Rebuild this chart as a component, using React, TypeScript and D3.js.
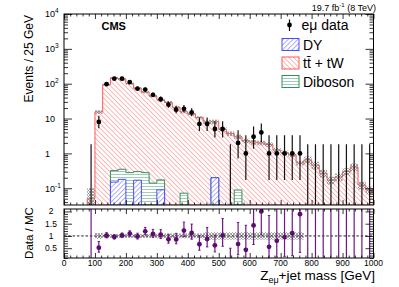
import React from "react";
import * as d3 from "d3";

// 25 GeV bins, lower edges from 75 to 975 GeV
const binLow = d3.range(75, 1000, 25);
const binWidth = 25;

// e-mu data counts per bin
const dataCounts = [0, 8, 97, 139, 139, 111, 72, 68, 48, 36, 25, 18, 19, 15, 7, 7, 5, 5, 0, 2, 1, 3, 4, 1, 1, 1, 1, 1, 0, 0, 0, 0, 0, 0, 0, 0, 0];

// simulation, events / 25 GeV
const ttbarValues = [0.05, 15.4, 95, 145, 135, 101, 73, 57, 44, 34, 29, 21, 15.5, 13.4, 10.6, 8, 7.9, 4.9, 3.7, 2.9, 2.3, 2.1, 2.0, 1.8, 1.25, 1.05, 0.9, 0.53, 0.65, 0.46, 0.27, 0.17, 0.21, 0.3, 0.41, 0.124, 0.089];
const dyValues = [0, 0, 0, 0.15, 0.18, 0, 0.17, 0, 0, 0.09, 0, 0, 0, 0, 0, 0, 0.2, 0, 0, 0, 0, 0, 0, 0, 0, 0, 0, 0, 0, 0, 0, 0, 0, 0, 0, 0, 0];
const dibosonValues = [0, 0, 0, 0.17, 0.17, 0.28, 0.13, 0.28, 0.14, 0.083, 0, 0, 0.072, 0, 0, 0, 0, 0, 0, 0.089, 0, 0, 0, 0, 0, 0, 0, 0, 0, 0, 0, 0, 0, 0, 0, 0, 0];
// relative MC uncertainty (gray band)
const mcRelUnc = [1.0, 0.12, 0.08, 0.08, 0.08, 0.08, 0.08, 0.08, 0.08, 0.1, 0.1, 0.1, 0.1, 0.1, 0.1, 0.15, 0.15, 0.15, 0.15, 0.15, 0.15, 0.15, 0.15, 0.15, 0.15, 0.15, 0.15, 0.15, 0.25, 0.25, 0.25, 0.25, 0.25, 0.25, 0.25, 0.25, 0.25];

// 68% Poisson intervals (lower / upper bound) for small counts
const poissonLow = [0, 0.173, 0.708, 1.367, 2.086, 2.84, 3.62, 4.419, 5.232, 6.057, 6.891];
const poissonHigh = [1.841, 3.3, 4.638, 5.918, 7.163, 8.382, 9.584, 10.77, 11.95, 13.11, 14.27];

const yLabelsTop = [
  { v: 1e4, base: "10", sup: "4" },
  { v: 1e3, base: "10", sup: "3" },
  { v: 1e2, base: "10", sup: "2" },
  { v: 10, base: "10", sup: "" },
  { v: 1, base: "1", sup: "" },
  { v: 0.1, base: "10", sup: "-1" },
];
const ratioLabels = [0.5, 1, 1.5, 2];

const W = 399;
const H = 287;
const left = 64;
const right = 373.5;
const top1 = 14;
const bottom1 = 205;
const top2 = 209;
const bottom2 = 258;
const FONT = "Liberation Sans, Arial, Helvetica, sans-serif";

// returns [lower bound, upper bound]
function interval(n) {
  if (n <= 10) return [poissonLow[n], poissonHigh[n]];
  const s = Math.sqrt(n);
  return [n - s + 0.5, n + s + 1];
}

function stepPath(vals, x, y, base) {
  let p = "";
  let open = false;
  vals.forEach((v, i) => {
    const x0 = x(binLow[i]);
    const x1 = x(binLow[i] + binWidth);
    if (v > 0) {
      const yy = y(v);
      if (!open) {
        p += `M${x0},${base}V${yy}`;
        open = true;
      } else p += `V${yy}`;
      p += `H${x1}`;
      if (i === vals.length - 1 || !(vals[i + 1] > 0)) {
        p += `V${base}Z`;
        open = false;
      }
    }
  });
  return p;
}

function hatch(defs, id, angle, color, size, width) {
  const p = defs
    .append("pattern")
    .attr("id", id)
    .attr("patternUnits", "userSpaceOnUse")
    .attr("width", size)
    .attr("height", size)
    .attr("patternTransform", `rotate(${angle})`);
  p.append("rect").attr("width", size).attr("height", size).attr("fill", "white");
  p.append("line")
    .attr("x1", 0)
    .attr("y1", 0)
    .attr("x2", 0)
    .attr("y2", size)
    .attr("stroke", color)
    .attr("stroke-width", width);
}

function drawChart(svgEl) {
  const svg = d3.select(svgEl);
  svg.selectAll("*").remove();

  const x = d3.scaleLinear().domain([0, 1000]).range([left, right]);
  const y = d3.scaleLog().domain([0.033, 1e4]).range([bottom1, top1]);
  const yr = d3.scaleLinear().domain([0.1, 2.1]).range([bottom2, top2]);

  const defs = svg.append("defs");
  hatch(defs, "hRed", -45, "#ff6f6f", 3.4, 1);
  hatch(defs, "hBlue", 45, "#5f5fff", 3.4, 1);
  hatch(defs, "hGreen", 90, "#2f8f5f", 3, 0.9);
  const cross = defs
    .append("pattern")
    .attr("id", "hGray")
    .attr("patternUnits", "userSpaceOnUse")
    .attr("width", 3)
    .attr("height", 3);
  cross.append("path").attr("d", "M0,0L3,3M3,0L0,3").attr("stroke", "#8a8a8a").attr("stroke-width", 0.8);
  defs.append("clipPath").attr("id", "clipTop").append("rect")
    .attr("x", left).attr("y", top1).attr("width", right - left).attr("height", bottom1 - top1);
  defs.append("clipPath").attr("id", "clipRatio").append("rect")
    .attr("x", left).attr("y", top2).attr("width", right - left).attr("height", bottom2 - top2);

  const total = ttbarValues.map((t, i) => t + dyValues[i] + dibosonValues[i]);
  const dyVv = dyValues.map((d, i) => d + dibosonValues[i]);

  // ---- upper panel
  const up = svg.append("g").attr("clip-path", "url(#clipTop)");
  up.append("path")
    .attr("d", stepPath(total, x, y, bottom1))
    .attr("fill", "url(#hRed)")
    .attr("stroke", "#ff5555")
    .attr("stroke-width", 1);
  up.append("path")
    .attr("d", stepPath(dyVv, x, y, bottom1))
    .attr("fill", "url(#hGreen)")
    .attr("stroke", "#2f8f5f")
    .attr("stroke-width", 1);
  up.append("path")
    .attr("d", stepPath(dyValues, x, y, bottom1))
    .attr("fill", "url(#hBlue)")
    .attr("stroke", "#4a4aff")
    .attr("stroke-width", 1);

  // mc uncertainty band
  up.selectAll("rect.band")
    .data(total)
    .enter()
    .append("rect")
    .attr("x", (d, i) => x(binLow[i]))
    .attr("width", x(binWidth) - x(0))
    .attr("y", (d, i) => y(d * (1 + mcRelUnc[i])))
    .attr("height", (d, i) => y(Math.max(d * (1 - mcRelUnc[i]), 0.033)) - y(d * (1 + mcRelUnc[i])))
    .attr("fill", "url(#hGray)");

  // data
  dataCounts.forEach((n, i) => {
    const cx = x(binLow[i] + binWidth / 2);
    const [lo, hi] = interval(n);
    up.append("line")
      .attr("x1", cx).attr("x2", cx)
      .attr("y1", y(Math.max(lo, 0.02)))
      .attr("y2", y(hi))
      .attr("stroke", "#111")
      .attr("stroke-width", 1.2);
    if (n > 0) up.append("circle").attr("cx", cx).attr("cy", y(n)).attr("r", 2.4).attr("fill", "black");
  });

  // ---- ratio panel
  const rp = svg.append("g").attr("clip-path", "url(#clipRatio)");
  total.forEach((m, i) => {
    if (binLow[i] < 100 || binLow[i] >= 775) return;
    rp.append("rect")
      .attr("x", x(binLow[i]))
      .attr("width", x(binWidth) - x(0))
      .attr("y", yr(1 + mcRelUnc[i]))
      .attr("height", yr(1 - mcRelUnc[i]) - yr(1 + mcRelUnc[i]))
      .attr("fill", "url(#hGray)");
  });
  rp.append("line")
    .attr("x1", left).attr("x2", right)
    .attr("y1", yr(1)).attr("y2", yr(1))
    .attr("stroke", "#222")
    .attr("stroke-dasharray", "2.5,1.8")
    .attr("stroke-width", 1);
  dataCounts.forEach((n, i) => {
    const m = total[i];
    const cx = x(binLow[i] + binWidth / 2);
    const [lo, hi] = interval(n);
    const y1 = yr(lo / m);
    const y2 = yr(hi / m);
    rp.append("line")
      .attr("x1", cx).attr("x2", cx)
      .attr("y1", y1).attr("y2", y2)
      .attr("stroke", "#6a1a80")
      .attr("stroke-width", 1.2);
    [y1, y2].forEach((yy) =>
      rp.append("line")
        .attr("x1", cx - 1.2).attr("x2", cx + 1.2)
        .attr("y1", yy).attr("y2", yy)
        .attr("stroke", "#6a1a80")
        .attr("stroke-width", 1)
    );
    if (n > 0) rp.append("circle").attr("cx", cx).attr("cy", yr(n / m)).attr("r", 2.4).attr("fill", "#5e0a72");
  });

  // ---- frames and ticks
  [
    [top1, bottom1],
    [top2, bottom2],
  ].forEach(([t, b]) => {
    svg.append("rect")
      .attr("x", left).attr("y", t)
      .attr("width", right - left).attr("height", b - t)
      .attr("fill", "none").attr("stroke", "black").attr("stroke-width", 1);
  });

  const xMajor = d3.range(0, 1001, 100);
  const xMinor = d3.range(0, 1001, 20).filter((v) => v % 100 !== 0);
  const tickAxis = (axis, tx, ty) =>
    svg.append("g")
      .attr("transform", `translate(${tx},${ty})`)
      .call(axis)
      .call((g) => g.select(".domain").remove())
      .call((g) => g.selectAll(".tick line").attr("stroke", "black").attr("stroke-width", 0.8));

  // x ticks on both panels, pointing inward
  [
    [top1, bottom1, 5, 2.5],
    [top2, bottom2, 5, 2.5],
  ].forEach(([t, b, maj, mn]) => {
    tickAxis(d3.axisBottom(x).tickValues(xMajor).tickSize(-maj).tickFormat(() => ""), 0, b);
    tickAxis(d3.axisBottom(x).tickValues(xMinor).tickSize(-mn).tickFormat(() => ""), 0, b);
    tickAxis(d3.axisTop(x).tickValues(xMajor).tickSize(-maj).tickFormat(() => ""), 0, t);
    tickAxis(d3.axisTop(x).tickValues(xMinor).tickSize(-mn).tickFormat(() => ""), 0, t);
  });

  // log y ticks
  const yMajor = yLabelsTop.map((d) => d.v);
  const yMinor = y.ticks().filter((v) => !yMajor.some((m) => Math.abs(m - v) / m < 1e-6));
  tickAxis(d3.axisLeft(y).tickValues(yMajor).tickSize(-8).tickFormat(() => ""), left, 0);
  tickAxis(d3.axisLeft(y).tickValues(yMinor).tickSize(-4).tickFormat(() => ""), left, 0);
  tickAxis(d3.axisRight(y).tickValues(yMajor).tickSize(-8).tickFormat(() => ""), right, 0);
  tickAxis(d3.axisRight(y).tickValues(yMinor).tickSize(-4).tickFormat(() => ""), right, 0);

  // ratio y ticks
  const rMinor = d3.range(1, 21).map((k) => k / 10).filter((v) => Math.abs(v * 2 - Math.round(v * 2)) > 1e-6);
  tickAxis(d3.axisLeft(yr).tickValues(ratioLabels).tickSize(-8).tickFormat(() => ""), left, 0);
  tickAxis(d3.axisLeft(yr).tickValues(rMinor).tickSize(-4).tickFormat(() => ""), left, 0);
  tickAxis(d3.axisRight(yr).tickValues(ratioLabels).tickSize(-8).tickFormat(() => ""), right, 0);
  tickAxis(d3.axisRight(yr).tickValues(rMinor).tickSize(-4).tickFormat(() => ""), right, 0);

  // ---- labels
  const txt = svg.append("g").attr("font-family", FONT).attr("fill", "black");
  yLabelsTop.forEach((d) => {
    const t = txt.append("text").attr("x", 45).attr("y", y(d.v) + 3.3).attr("font-size", 9).text(d.base);
    if (d.sup) t.append("tspan").attr("dy", -4).attr("font-size", 6.5).text(d.sup);
  });
  ratioLabels.forEach((v) => {
    txt.append("text").attr("x", 51).attr("y", yr(v) + 3).attr("font-size", 8.5).attr("text-anchor", "middle").text(String(v));
  });
  xMajor.forEach((v) => {
    txt.append("text").attr("x", x(v)).attr("y", 266).attr("font-size", 8.5).attr("text-anchor", "middle").text(String(v));
  });

  txt.append("text")
    .attr("transform", `translate(32.5,15) rotate(-90)`)
    .attr("text-anchor", "end")
    .attr("font-size", 12)
    .text("Events / 25 GeV");
  txt.append("text")
    .attr("transform", `translate(32.5,233) rotate(-90)`)
    .attr("text-anchor", "middle")
    .attr("font-size", 11.5)
    .text("Data / MC");

  const xt = txt.append("text").attr("x", 375).attr("y", 279.5).attr("text-anchor", "end").attr("font-size", 13.5);
  xt.append("tspan").text("Z");
  xt.append("tspan").attr("dy", 3).attr("font-size", 9).text("eμ");
  xt.append("tspan").attr("dy", -3).text("+jet mass [GeV]");

  txt.append("text").attr("x", 101.5).attr("y", 30).attr("font-size", 11).attr("font-weight", "bold").text("CMS");

  const lumi = txt.append("text").attr("x", 376).attr("y", 10.5).attr("text-anchor", "end").attr("font-size", 9);
  lumi.append("tspan").text("19.7 fb");
  lumi.append("tspan").attr("dy", -3.5).attr("font-size", 6).text("-1");
  lumi.append("tspan").attr("dy", 3.5).text(" (8 TeV)");

  // ---- legend
  const lg = svg.append("g").attr("font-family", FONT).attr("font-size", 14);
  lg.append("line").attr("x1", 289.5).attr("x2", 289.5).attr("y1", 19.5).attr("y2", 31).attr("stroke", "black").attr("stroke-width", 1.2);
  lg.append("circle").attr("cx", 289.5).attr("cy", 25).attr("r", 2.4).attr("fill", "black");
  lg.append("text").attr("x", 301.5).attr("y", 30).text("eμ data");

  const boxes = [
    { y: 38.5, fill: "url(#hBlue)", stroke: "#4a4aff", label: "DY" },
    { y: 57, fill: "url(#hRed)", stroke: "#ff5555", label: "tt\u0304 + tW" },
    { y: 75.5, fill: "url(#hGreen)", stroke: "#2f8f5f", label: "Diboson" },
  ];
  boxes.forEach((b) => {
    lg.append("rect").attr("x", 282).attr("y", b.y).attr("width", 17).attr("height", 12)
      .attr("fill", b.fill).attr("stroke", b.stroke).attr("stroke-width", 1);
    lg.append("text").attr("x", 303).attr("y", b.y + 11).text(b.label);
  });
}

const App = () => {
  const svg = React.useRef(null);

  React.useEffect(() => {
    if (svg.current) drawChart(svg.current);
  }, [svg]);

  return (
    <div>
      <svg
        ref={svg}
        width={W}
        height={H}
        style={{ position: "absolute", left: 0, top: 0, background: "white" }}
      />
    </div>
  );
};

export default App;
